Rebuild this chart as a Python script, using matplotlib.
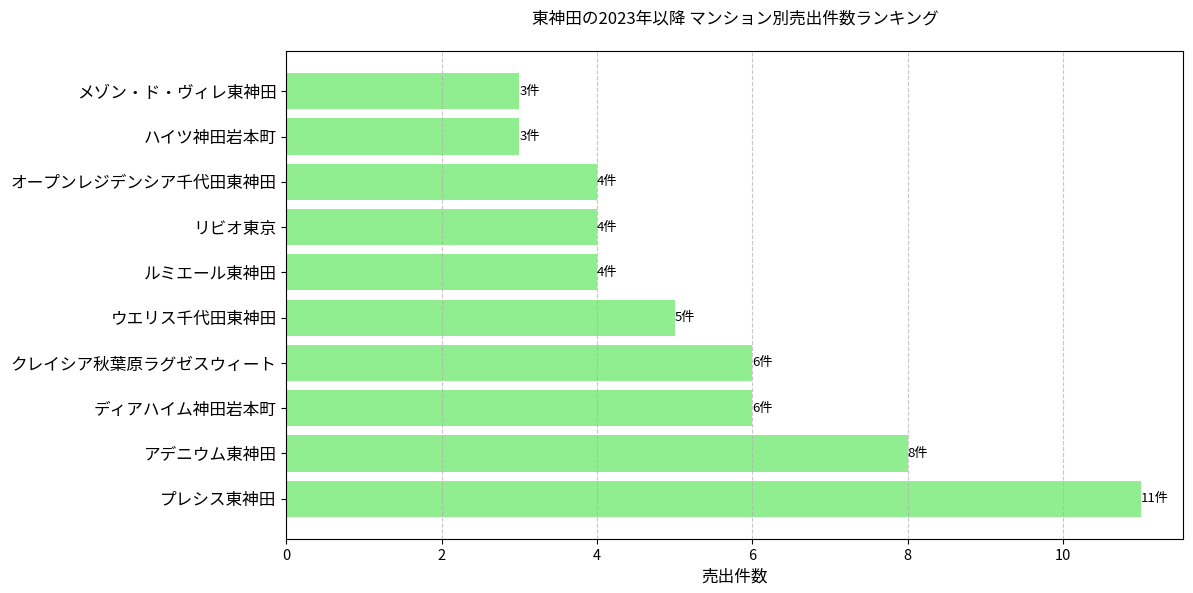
import matplotlib
matplotlib.use("Agg")
import matplotlib.pyplot as plt

plt.rcParams['font.family'] = ['Noto Sans CJK JP', 'DejaVu Sans']

# Data (top of chart first)
names = ["メゾン・ド・ヴィレ東神田", "ハイツ神田岩本町", "オープンレジデンシア千代田東神田",
         "リビオ東京", "ルミエール東神田", "ウエリス千代田東神田",
         "クレイシア秋葉原ラグゼスウィート", "ディアハイム神田岩本町", "アデニウム東神田", "プレシス東神田"]
counts = [3, 3, 4, 4, 4, 5, 6, 6, 8, 11]

fig, ax = plt.subplots(figsize=(11.93, 5.93), dpi=100)
bars = ax.barh(names, counts, color="lightgreen")
ax.invert_yaxis()

for bar, c in zip(bars, counts):
    ax.text(bar.get_width(), bar.get_y() + bar.get_height() / 2, f"{c}件",
            ha="left", va="center", fontsize=9.5)

ax.set_title("東神田の2023年以降 マンション別売出件数ランキング", fontsize=12, pad=20)
ax.set_xlabel("売出件数", fontsize=12)
ax.tick_params(axis="y", labelsize=12)
ax.tick_params(axis="x", labelsize=10.5)
ax.grid(axis="x", linestyle="--", alpha=0.7)

plt.subplots_adjust(left=0.24, right=0.992, top=0.914, bottom=0.091)
plt.savefig("out.png")
